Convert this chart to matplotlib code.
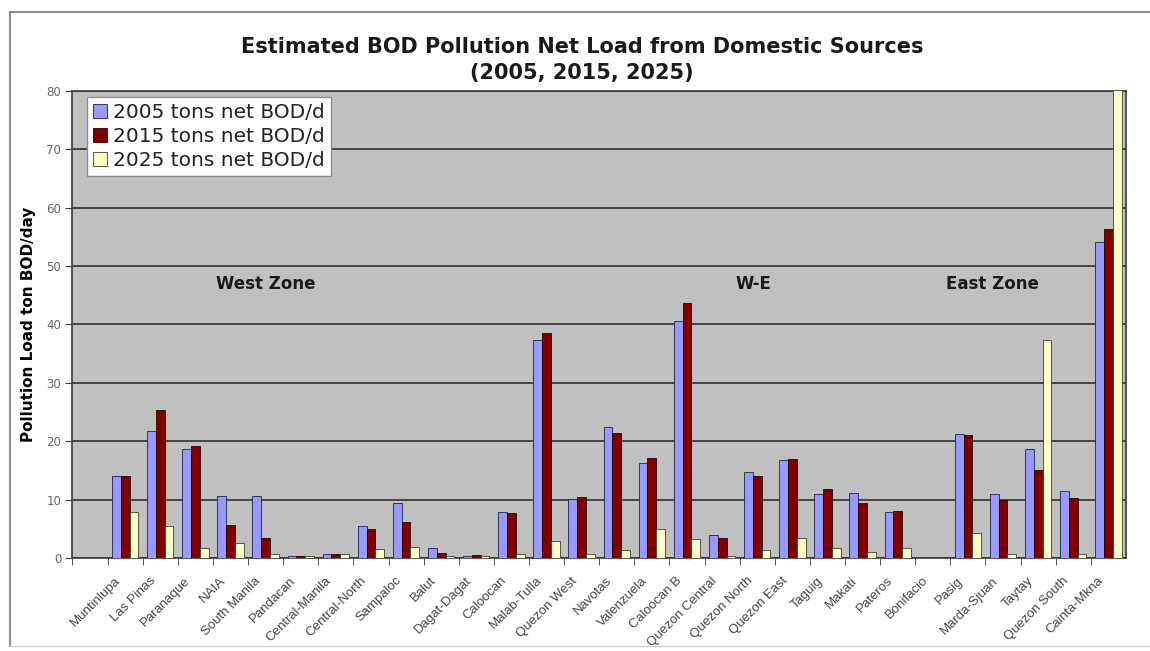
import matplotlib.pyplot as plt
import numpy as np
from matplotlib import transforms as mtransforms
from matplotlib.lines import Line2D

# districts along the category axis (first slot is an empty row in the sheet)
districts = ['', 'Muntinlupa', 'Las Pinas', 'Paranaque', 'NAIA', 'South Manila',
             'Pandacan', 'Central-Manila', 'Central-North', 'Sampaloc', 'Balut',
             'Dagat-Dagat', 'Caloocan', 'Malab-Tulla', 'Quezon West', 'Navotas',
             'Valenzuela', 'Caloocan B', 'Quezon Central', 'Quezon North',
             'Quezon East', 'Taguig', 'Makati', 'Pateros', 'Bonifacio', 'Pasig',
             'Marda-Sjuan', 'Taytay', 'Quezon South', 'Cainta-Mkna']

# tons net BOD per day
bod_2005 = [0, 14.1, 21.7, 18.6, 10.6, 10.7, 0.4, 0.6, 5.4, 9.4, 1.7, 0.4, 7.8,
            37.3, 10.1, 22.4, 16.2, 40.6, 4.0, 14.7, 16.7, 10.9, 11.1, 7.8, 0,
            21.3, 10.9, 18.7, 11.5, 54.1]
bod_2015 = [0, 14.0, 25.3, 19.1, 5.7, 3.4, 0.4, 0.7, 5.0, 6.2, 0.8, 0.5, 7.7,
            38.6, 10.4, 21.4, 17.1, 43.6, 3.4, 14.0, 16.9, 11.8, 9.5, 8.0, 0,
            21.0, 9.9, 15.0, 10.3, 56.3]
bod_2025 = [0, 7.8, 5.4, 1.7, 2.5, 0.7, 0.3, 0.6, 1.6, 1.8, 0.3, 0.3, 0.6,
            2.9, 0.7, 1.4, 5.0, 3.3, 0.4, 1.3, 3.4, 1.7, 1.0, 1.7, 0,
            4.3, 0.6, 37.3, 0.6, 95]

series_labels = ['2005 tons net BOD/d', '2015 tons net BOD/d', '2025 tons net BOD/d']
zones = ['West Zone', 'W-E', 'East Zone']

fig = plt.figure(figsize=(11.5, 6.51), dpi=100)
ax = fig.add_axes([0.063, 0.1429, 0.9161, 0.7173])

x = np.arange(len(districts))
w = 0.25
ax.bar(x - w, bod_2005, w, color='#9999FF', edgecolor='#202050', linewidth=0.6,
       label=series_labels[0], zorder=3)
ax.bar(x, bod_2015, w, color='#800000', edgecolor='#2a0000', linewidth=0.6,
       label=series_labels[1], zorder=3)
ax.bar(x + w, bod_2025, w, color='#FFFFCC', edgecolor='#404020', linewidth=0.6,
       label=series_labels[2], zorder=3)

ax.set_facecolor('#C0C0C0')
ax.set_xlim(-0.5, len(districts) - 0.5)
ax.set_ylim(0, 80)
ax.set_yticks(range(0, 81, 10))
ax.yaxis.grid(True, color='#3a3a3a', linewidth=1.3, zorder=1)
for side in ['left', 'bottom', 'top', 'right']:
    ax.spines[side].set_color('#3a3a3a')
    ax.spines[side].set_linewidth(1.2)

ax.tick_params(axis='y', direction='out', length=5, color='#3a3a3a',
               labelsize=8.5, labelcolor='#666666', pad=3)

# category labels: tick marks between groups, slanted names
ax.set_xticks(x - 0.5, minor=True)
ax.tick_params(axis='x', which='minor', direction='out', length=5, color='#3a3a3a')
ax.set_xticks(x, districts, rotation=45, ha='right', rotation_mode='anchor',
              family='Liberation Sans')
ax.tick_params(axis='x', which='major', length=0, pad=12, labelsize=9.5,
               labelcolor='#444444')
shift = mtransforms.ScaledTranslation(-0.11, 0, fig.dpi_scale_trans)
for lbl in ax.get_xticklabels():
    lbl.set_transform(lbl.get_transform() + shift)

ax.set_ylabel('Pollution Load ton BOD/day', fontsize=11, fontweight='bold')
ax.yaxis.set_label_coords(-0.035, 0.5)

for name, xpos in zip(zones, [5.0, 18.9, 25.7]):
    ax.text(xpos, 47, name, ha='center', va='center', fontsize=12,
            fontweight='bold', color='#1a1a1a', zorder=4)

leg = ax.legend(loc='upper left', bbox_to_anchor=(0.0138, 0.987), fontsize=14.5,
                frameon=True, fancybox=False, edgecolor='#909090',
                facecolor='white', framealpha=1, handlelength=0.7,
                handleheight=0.7, handletextpad=0.3, borderpad=0.3,
                labelspacing=0.25, borderaxespad=0)
for t in leg.get_texts():
    t.set_color('#222222')

fig.text(0.506, 0.908, 'Estimated BOD Pollution Net Load from Domestic Sources\n'
         '(2005, 2015, 2025)', ha='center', va='center', fontsize=15,
         fontweight='bold', linespacing=1.4, color='#1a1a1a')

# chart frame
W, H = 1150, 651
frame = dict(transform=fig.transFigure, color='#8c8c8c', linewidth=1.5)
fig.add_artist(Line2D([10 / W, 1.0], [1 - 12 / H, 1 - 12 / H], **frame))
fig.add_artist(Line2D([10 / W, 10 / W], [1 - 12 / H, 1 - 646 / H], **frame))
fig.add_artist(Line2D([10 / W, 1.0], [1 - 646 / H, 1 - 646 / H],
                      transform=fig.transFigure, color='#d0d0d0', linewidth=1))

fig.savefig('out.png', dpi=100)
